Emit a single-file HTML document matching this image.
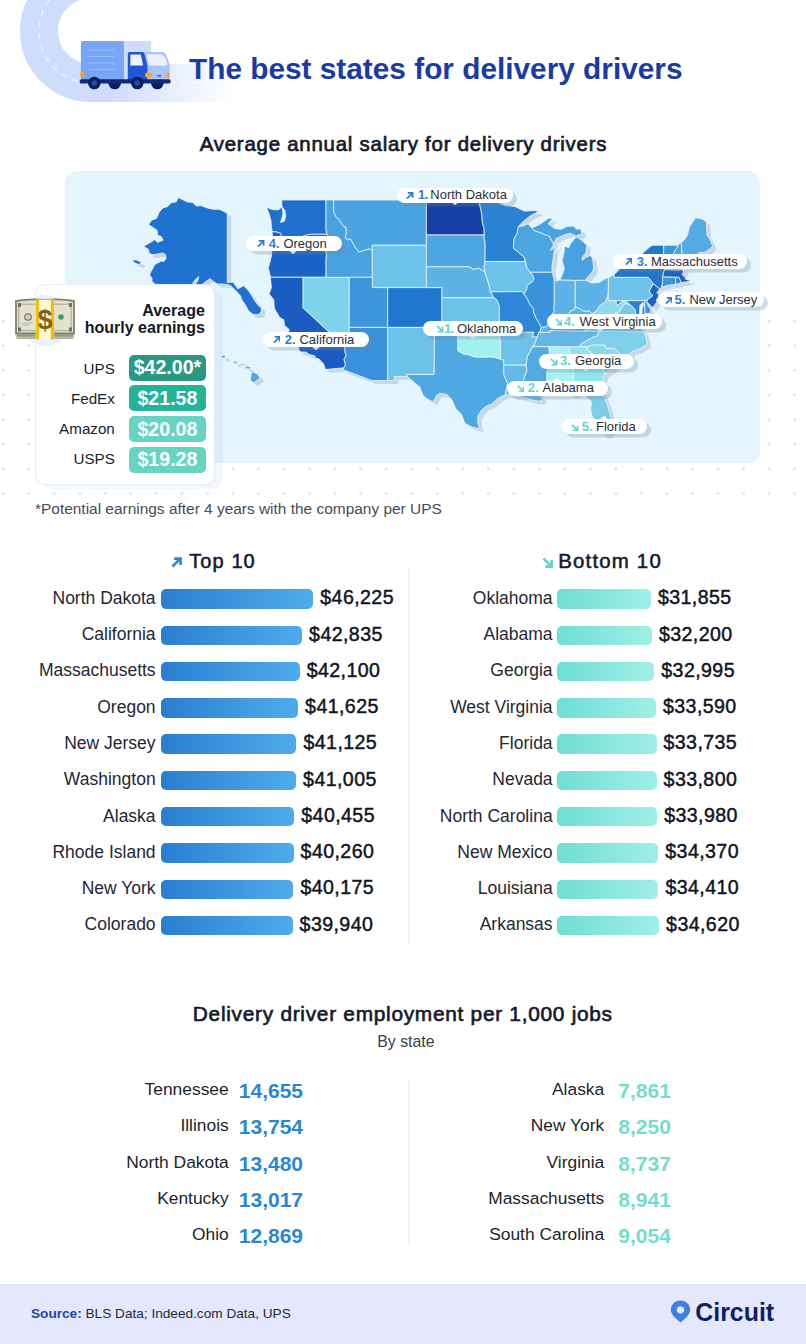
<!DOCTYPE html>
<html><head><meta charset="utf-8"><title>The best states for delivery drivers</title>
<style>
html,body{margin:0;padding:0;background:#fff;}
body{width:806px;height:1344px;position:relative;overflow:hidden;font-family:'Liberation Sans', Arial, sans-serif;}
.abs{position:absolute;}
.t{position:absolute;white-space:nowrap;line-height:1;}
.pill{position:absolute;height:15px;border-radius:7.5px;background:#fff;box-shadow:4px 3.5px 0 rgba(105,134,155,0.28);}
.pill b{font-weight:700;}
.bar{position:absolute;height:19.5px;border-radius:5px;}
.top .bar{background:linear-gradient(90deg,#2a7ed0,#4eaceb);}
.bot .bar{background:linear-gradient(90deg,#6fded3,#a0efe7);}
</style></head><body>

<svg class="abs" style="left:0;top:0" width="260" height="115" viewBox="0 0 260 115">
<defs>
<linearGradient id="fade" gradientUnits="userSpaceOnUse" x1="112" y1="0" x2="236" y2="0">
<stop offset="0" stop-color="#fff"/><stop offset="1" stop-color="#fff" stop-opacity="0"/></linearGradient>
<mask id="rm" maskUnits="userSpaceOnUse" x="0" y="-20" width="260" height="140"><rect x="0" y="-20" width="260" height="140" fill="url(#fade)"/></mask>
</defs>
<g mask="url(#rm)">
<path d="M91,-21 A52,52 0 0 0 91,83 L250,83" fill="none" stroke="#cfddfc" stroke-width="38"/>
<path d="M91,-21 A52,52 0 0 0 91,83 L250,83" fill="none" stroke="#eef3fe" stroke-width="1.6" stroke-dasharray="6 6"/>
</g>
<!-- truck -->
<circle cx="114.7" cy="83" r="6.3" fill="#0b1f5a"/><circle cx="157.3" cy="83" r="6.3" fill="#0b1f5a"/>
<rect x="123" y="40.9" width="28.2" height="39" rx="1.5" fill="#cddcfb"/>
<rect x="80.9" y="40.9" width="43" height="39.5" rx="1.5" fill="#78a5f6"/>
<g stroke="#93b9f8" stroke-width="1.2"><line x1="88" y1="50" x2="114.7" y2="50"/><line x1="88" y1="56.5" x2="114.7" y2="56.5"/><line x1="88" y1="63" x2="114.7" y2="63"/><line x1="88" y1="69.5" x2="114.7" y2="69.5"/></g>
<path d="M142,52 L162,52 Q165,52 166.5,55 L169.6,65 L169.6,79.5 L145,80 Z" fill="#a9c4f8"/>
<path d="M146.5,54.2 L161.5,54.2 L165.3,57.5 L167.6,65.6 L148.8,65.6 Z" fill="#e9f1fe"/>
<path d="M127.8,80 L127.8,54 Q127.8,52 129.8,52 L142.5,52 Q144,52 144.5,54 L147.5,66 L147.5,80 Z" fill="#1f55d6"/>
<path d="M130.4,54.6 L140.8,54.6 L143.2,65.6 L130.4,65.6 Z" fill="#eef3fe"/>
<rect x="79.6" y="79.2" width="91.2" height="4.4" rx="2.2" fill="#0e2a78"/>
<circle cx="94.3" cy="83" r="6.3" fill="#0b1f5a"/><circle cx="94.3" cy="83" r="2.8" fill="#1c4fb8"/>
<circle cx="137.3" cy="83" r="6.3" fill="#0b1f5a"/><circle cx="137.3" cy="83" r="2.8" fill="#1c4fb8"/>
<rect x="80.2" y="71.2" width="4.4" height="5.8" rx="2" fill="#f6a623"/>
<ellipse cx="148.6" cy="75" rx="3.6" ry="2.8" fill="#f7a823"/>
<ellipse cx="168" cy="75" rx="1.8" ry="2.8" fill="#f7a823"/>
<rect x="157.5" y="74.9" width="3.8" height="1.5" rx="0.7" fill="#1f55d6"/>
</svg>

<div class="t" style="left:189.0px;top:53.8px;font-size:29.8px;color:#1a3ba5;font-weight:700;">The best states for delivery drivers</div>
<div class="t" style="left:103.5px;width:600px;text-align:center;top:133.5px;font-size:20.4px;color:#171b2b;font-weight:400;-webkit-text-stroke:0.7px #171b2b;letter-spacing:0.78px;">Average annual salary for delivery drivers</div>
<svg class="abs" style="left:0;top:0" width="806" height="520"><g fill="#dde6f1"><circle cx="3.2" cy="321.0" r="1.6"/><circle cx="28.7" cy="321.0" r="1.6"/><circle cx="54.3" cy="321.0" r="1.6"/><circle cx="79.8" cy="321.0" r="1.6"/><circle cx="105.3" cy="321.0" r="1.6"/><circle cx="130.8" cy="321.0" r="1.6"/><circle cx="156.4" cy="321.0" r="1.6"/><circle cx="181.9" cy="321.0" r="1.6"/><circle cx="207.4" cy="321.0" r="1.6"/><circle cx="233.0" cy="321.0" r="1.6"/><circle cx="258.5" cy="321.0" r="1.6"/><circle cx="284.0" cy="321.0" r="1.6"/><circle cx="309.6" cy="321.0" r="1.6"/><circle cx="335.1" cy="321.0" r="1.6"/><circle cx="360.6" cy="321.0" r="1.6"/><circle cx="386.2" cy="321.0" r="1.6"/><circle cx="411.7" cy="321.0" r="1.6"/><circle cx="437.2" cy="321.0" r="1.6"/><circle cx="462.7" cy="321.0" r="1.6"/><circle cx="488.3" cy="321.0" r="1.6"/><circle cx="513.8" cy="321.0" r="1.6"/><circle cx="539.3" cy="321.0" r="1.6"/><circle cx="564.9" cy="321.0" r="1.6"/><circle cx="590.4" cy="321.0" r="1.6"/><circle cx="615.9" cy="321.0" r="1.6"/><circle cx="641.5" cy="321.0" r="1.6"/><circle cx="667.0" cy="321.0" r="1.6"/><circle cx="692.5" cy="321.0" r="1.6"/><circle cx="718.0" cy="321.0" r="1.6"/><circle cx="743.6" cy="321.0" r="1.6"/><circle cx="769.1" cy="321.0" r="1.6"/><circle cx="794.6" cy="321.0" r="1.6"/><circle cx="3.2" cy="345.6" r="1.6"/><circle cx="28.7" cy="345.6" r="1.6"/><circle cx="54.3" cy="345.6" r="1.6"/><circle cx="79.8" cy="345.6" r="1.6"/><circle cx="105.3" cy="345.6" r="1.6"/><circle cx="130.8" cy="345.6" r="1.6"/><circle cx="156.4" cy="345.6" r="1.6"/><circle cx="181.9" cy="345.6" r="1.6"/><circle cx="207.4" cy="345.6" r="1.6"/><circle cx="233.0" cy="345.6" r="1.6"/><circle cx="258.5" cy="345.6" r="1.6"/><circle cx="284.0" cy="345.6" r="1.6"/><circle cx="309.6" cy="345.6" r="1.6"/><circle cx="335.1" cy="345.6" r="1.6"/><circle cx="360.6" cy="345.6" r="1.6"/><circle cx="386.2" cy="345.6" r="1.6"/><circle cx="411.7" cy="345.6" r="1.6"/><circle cx="437.2" cy="345.6" r="1.6"/><circle cx="462.7" cy="345.6" r="1.6"/><circle cx="488.3" cy="345.6" r="1.6"/><circle cx="513.8" cy="345.6" r="1.6"/><circle cx="539.3" cy="345.6" r="1.6"/><circle cx="564.9" cy="345.6" r="1.6"/><circle cx="590.4" cy="345.6" r="1.6"/><circle cx="615.9" cy="345.6" r="1.6"/><circle cx="641.5" cy="345.6" r="1.6"/><circle cx="667.0" cy="345.6" r="1.6"/><circle cx="692.5" cy="345.6" r="1.6"/><circle cx="718.0" cy="345.6" r="1.6"/><circle cx="743.6" cy="345.6" r="1.6"/><circle cx="769.1" cy="345.6" r="1.6"/><circle cx="794.6" cy="345.6" r="1.6"/><circle cx="3.2" cy="370.3" r="1.6"/><circle cx="28.7" cy="370.3" r="1.6"/><circle cx="54.3" cy="370.3" r="1.6"/><circle cx="79.8" cy="370.3" r="1.6"/><circle cx="105.3" cy="370.3" r="1.6"/><circle cx="130.8" cy="370.3" r="1.6"/><circle cx="156.4" cy="370.3" r="1.6"/><circle cx="181.9" cy="370.3" r="1.6"/><circle cx="207.4" cy="370.3" r="1.6"/><circle cx="233.0" cy="370.3" r="1.6"/><circle cx="258.5" cy="370.3" r="1.6"/><circle cx="284.0" cy="370.3" r="1.6"/><circle cx="309.6" cy="370.3" r="1.6"/><circle cx="335.1" cy="370.3" r="1.6"/><circle cx="360.6" cy="370.3" r="1.6"/><circle cx="386.2" cy="370.3" r="1.6"/><circle cx="411.7" cy="370.3" r="1.6"/><circle cx="437.2" cy="370.3" r="1.6"/><circle cx="462.7" cy="370.3" r="1.6"/><circle cx="488.3" cy="370.3" r="1.6"/><circle cx="513.8" cy="370.3" r="1.6"/><circle cx="539.3" cy="370.3" r="1.6"/><circle cx="564.9" cy="370.3" r="1.6"/><circle cx="590.4" cy="370.3" r="1.6"/><circle cx="615.9" cy="370.3" r="1.6"/><circle cx="641.5" cy="370.3" r="1.6"/><circle cx="667.0" cy="370.3" r="1.6"/><circle cx="692.5" cy="370.3" r="1.6"/><circle cx="718.0" cy="370.3" r="1.6"/><circle cx="743.6" cy="370.3" r="1.6"/><circle cx="769.1" cy="370.3" r="1.6"/><circle cx="794.6" cy="370.3" r="1.6"/><circle cx="3.2" cy="394.9" r="1.6"/><circle cx="28.7" cy="394.9" r="1.6"/><circle cx="54.3" cy="394.9" r="1.6"/><circle cx="79.8" cy="394.9" r="1.6"/><circle cx="105.3" cy="394.9" r="1.6"/><circle cx="130.8" cy="394.9" r="1.6"/><circle cx="156.4" cy="394.9" r="1.6"/><circle cx="181.9" cy="394.9" r="1.6"/><circle cx="207.4" cy="394.9" r="1.6"/><circle cx="233.0" cy="394.9" r="1.6"/><circle cx="258.5" cy="394.9" r="1.6"/><circle cx="284.0" cy="394.9" r="1.6"/><circle cx="309.6" cy="394.9" r="1.6"/><circle cx="335.1" cy="394.9" r="1.6"/><circle cx="360.6" cy="394.9" r="1.6"/><circle cx="386.2" cy="394.9" r="1.6"/><circle cx="411.7" cy="394.9" r="1.6"/><circle cx="437.2" cy="394.9" r="1.6"/><circle cx="462.7" cy="394.9" r="1.6"/><circle cx="488.3" cy="394.9" r="1.6"/><circle cx="513.8" cy="394.9" r="1.6"/><circle cx="539.3" cy="394.9" r="1.6"/><circle cx="564.9" cy="394.9" r="1.6"/><circle cx="590.4" cy="394.9" r="1.6"/><circle cx="615.9" cy="394.9" r="1.6"/><circle cx="641.5" cy="394.9" r="1.6"/><circle cx="667.0" cy="394.9" r="1.6"/><circle cx="692.5" cy="394.9" r="1.6"/><circle cx="718.0" cy="394.9" r="1.6"/><circle cx="743.6" cy="394.9" r="1.6"/><circle cx="769.1" cy="394.9" r="1.6"/><circle cx="794.6" cy="394.9" r="1.6"/><circle cx="3.2" cy="419.6" r="1.6"/><circle cx="28.7" cy="419.6" r="1.6"/><circle cx="54.3" cy="419.6" r="1.6"/><circle cx="79.8" cy="419.6" r="1.6"/><circle cx="105.3" cy="419.6" r="1.6"/><circle cx="130.8" cy="419.6" r="1.6"/><circle cx="156.4" cy="419.6" r="1.6"/><circle cx="181.9" cy="419.6" r="1.6"/><circle cx="207.4" cy="419.6" r="1.6"/><circle cx="233.0" cy="419.6" r="1.6"/><circle cx="258.5" cy="419.6" r="1.6"/><circle cx="284.0" cy="419.6" r="1.6"/><circle cx="309.6" cy="419.6" r="1.6"/><circle cx="335.1" cy="419.6" r="1.6"/><circle cx="360.6" cy="419.6" r="1.6"/><circle cx="386.2" cy="419.6" r="1.6"/><circle cx="411.7" cy="419.6" r="1.6"/><circle cx="437.2" cy="419.6" r="1.6"/><circle cx="462.7" cy="419.6" r="1.6"/><circle cx="488.3" cy="419.6" r="1.6"/><circle cx="513.8" cy="419.6" r="1.6"/><circle cx="539.3" cy="419.6" r="1.6"/><circle cx="564.9" cy="419.6" r="1.6"/><circle cx="590.4" cy="419.6" r="1.6"/><circle cx="615.9" cy="419.6" r="1.6"/><circle cx="641.5" cy="419.6" r="1.6"/><circle cx="667.0" cy="419.6" r="1.6"/><circle cx="692.5" cy="419.6" r="1.6"/><circle cx="718.0" cy="419.6" r="1.6"/><circle cx="743.6" cy="419.6" r="1.6"/><circle cx="769.1" cy="419.6" r="1.6"/><circle cx="794.6" cy="419.6" r="1.6"/><circle cx="3.2" cy="444.2" r="1.6"/><circle cx="28.7" cy="444.2" r="1.6"/><circle cx="54.3" cy="444.2" r="1.6"/><circle cx="79.8" cy="444.2" r="1.6"/><circle cx="105.3" cy="444.2" r="1.6"/><circle cx="130.8" cy="444.2" r="1.6"/><circle cx="156.4" cy="444.2" r="1.6"/><circle cx="181.9" cy="444.2" r="1.6"/><circle cx="207.4" cy="444.2" r="1.6"/><circle cx="233.0" cy="444.2" r="1.6"/><circle cx="258.5" cy="444.2" r="1.6"/><circle cx="284.0" cy="444.2" r="1.6"/><circle cx="309.6" cy="444.2" r="1.6"/><circle cx="335.1" cy="444.2" r="1.6"/><circle cx="360.6" cy="444.2" r="1.6"/><circle cx="386.2" cy="444.2" r="1.6"/><circle cx="411.7" cy="444.2" r="1.6"/><circle cx="437.2" cy="444.2" r="1.6"/><circle cx="462.7" cy="444.2" r="1.6"/><circle cx="488.3" cy="444.2" r="1.6"/><circle cx="513.8" cy="444.2" r="1.6"/><circle cx="539.3" cy="444.2" r="1.6"/><circle cx="564.9" cy="444.2" r="1.6"/><circle cx="590.4" cy="444.2" r="1.6"/><circle cx="615.9" cy="444.2" r="1.6"/><circle cx="641.5" cy="444.2" r="1.6"/><circle cx="667.0" cy="444.2" r="1.6"/><circle cx="692.5" cy="444.2" r="1.6"/><circle cx="718.0" cy="444.2" r="1.6"/><circle cx="743.6" cy="444.2" r="1.6"/><circle cx="769.1" cy="444.2" r="1.6"/><circle cx="794.6" cy="444.2" r="1.6"/><circle cx="3.2" cy="468.9" r="1.6"/><circle cx="28.7" cy="468.9" r="1.6"/><circle cx="54.3" cy="468.9" r="1.6"/><circle cx="79.8" cy="468.9" r="1.6"/><circle cx="105.3" cy="468.9" r="1.6"/><circle cx="130.8" cy="468.9" r="1.6"/><circle cx="156.4" cy="468.9" r="1.6"/><circle cx="181.9" cy="468.9" r="1.6"/><circle cx="207.4" cy="468.9" r="1.6"/><circle cx="233.0" cy="468.9" r="1.6"/><circle cx="258.5" cy="468.9" r="1.6"/><circle cx="284.0" cy="468.9" r="1.6"/><circle cx="309.6" cy="468.9" r="1.6"/><circle cx="335.1" cy="468.9" r="1.6"/><circle cx="360.6" cy="468.9" r="1.6"/><circle cx="386.2" cy="468.9" r="1.6"/><circle cx="411.7" cy="468.9" r="1.6"/><circle cx="437.2" cy="468.9" r="1.6"/><circle cx="462.7" cy="468.9" r="1.6"/><circle cx="488.3" cy="468.9" r="1.6"/><circle cx="513.8" cy="468.9" r="1.6"/><circle cx="539.3" cy="468.9" r="1.6"/><circle cx="564.9" cy="468.9" r="1.6"/><circle cx="590.4" cy="468.9" r="1.6"/><circle cx="615.9" cy="468.9" r="1.6"/><circle cx="641.5" cy="468.9" r="1.6"/><circle cx="667.0" cy="468.9" r="1.6"/><circle cx="692.5" cy="468.9" r="1.6"/><circle cx="718.0" cy="468.9" r="1.6"/><circle cx="743.6" cy="468.9" r="1.6"/><circle cx="769.1" cy="468.9" r="1.6"/><circle cx="794.6" cy="468.9" r="1.6"/><circle cx="3.2" cy="493.5" r="1.6"/><circle cx="28.7" cy="493.5" r="1.6"/><circle cx="54.3" cy="493.5" r="1.6"/><circle cx="79.8" cy="493.5" r="1.6"/><circle cx="105.3" cy="493.5" r="1.6"/><circle cx="130.8" cy="493.5" r="1.6"/><circle cx="156.4" cy="493.5" r="1.6"/><circle cx="181.9" cy="493.5" r="1.6"/><circle cx="207.4" cy="493.5" r="1.6"/><circle cx="233.0" cy="493.5" r="1.6"/><circle cx="258.5" cy="493.5" r="1.6"/><circle cx="284.0" cy="493.5" r="1.6"/><circle cx="309.6" cy="493.5" r="1.6"/><circle cx="335.1" cy="493.5" r="1.6"/><circle cx="360.6" cy="493.5" r="1.6"/><circle cx="386.2" cy="493.5" r="1.6"/><circle cx="411.7" cy="493.5" r="1.6"/><circle cx="437.2" cy="493.5" r="1.6"/><circle cx="462.7" cy="493.5" r="1.6"/><circle cx="488.3" cy="493.5" r="1.6"/><circle cx="513.8" cy="493.5" r="1.6"/><circle cx="539.3" cy="493.5" r="1.6"/><circle cx="564.9" cy="493.5" r="1.6"/><circle cx="590.4" cy="493.5" r="1.6"/><circle cx="615.9" cy="493.5" r="1.6"/><circle cx="641.5" cy="493.5" r="1.6"/><circle cx="667.0" cy="493.5" r="1.6"/><circle cx="692.5" cy="493.5" r="1.6"/><circle cx="718.0" cy="493.5" r="1.6"/><circle cx="743.6" cy="493.5" r="1.6"/><circle cx="769.1" cy="493.5" r="1.6"/><circle cx="794.6" cy="493.5" r="1.6"/></g></svg>
<div class="abs" style="left:65px;top:171px;width:695px;height:292px;border-radius:12px;background:#e5f5fe;"></div>
<svg class="abs" style="left:0;top:0" width="806" height="520" viewBox="0 0 806 520">
<g transform="translate(4,3.5)" fill="#c7d8e5">
<path d="M266.5,207.2 272.2,209.6 278.4,209.9 281.8,207.0 281.8,200.0 326.0,200.0 326.0,229.5 326.9,234.3 311.0,234.3 306.2,235.1 299.2,237.6 293.8,238.2 285.3,239.3 281.8,238.2 280.7,233.2 276.8,232.1 272.2,231.5 271.4,226.5 271.0,220.8 269.1,213.9Z"/>
<path d="M272.2,231.5 276.8,232.1 280.7,233.2 281.8,238.2 285.3,239.3 293.8,238.2 299.2,237.6 306.2,235.1 311.0,234.3 326.9,234.3 330.3,239.3 328.6,244.2 325.1,251.3 326.7,254.0 326.1,258.3 326.1,277.3 303.1,277.3 270.6,277.3 269.1,271.1 268.3,268.4 271.4,256.2 272.2,245.3 272.6,237.6Z"/>
<path d="M325.4,369.5 324.4,366.1 323.2,363.4 318.6,358.7 315.5,358.3 314.7,355.7 309.3,354.5 306.2,352.2 299.6,351.7 298.5,347.5 298.1,343.7 293.1,339.9 288.4,334.2 289.2,329.4 284.5,325.5 283.8,319.7 279.9,317.7 274.5,308.8 273.7,299.8 269.1,293.8 271.4,287.6 270.6,279.4 270.6,277.3 303.1,277.3 303.1,307.8 344.6,346.6 345.1,352.2 346.2,355.2 344.1,359.7 345.5,364.9 343.9,367.8Z"/>
<path d="M303.1,277.3 326.1,277.3 349.2,277.3 349.2,327.4 349.2,335.2 346.8,336.1 344.1,336.6 344.6,346.6 303.1,307.8Z"/>
<path d="M326.0,200.0 333.6,200.0 333.6,211.9 336.0,216.8 339.4,220.2 343.7,226.5 346.0,227.0 346.4,234.3 345.2,237.1 347.2,239.9 350.6,238.7 353.3,244.2 355.3,247.5 358.8,251.9 364.9,250.2 369.6,248.6 372.3,250.8 372.3,277.3 349.2,277.3 326.1,277.3 326.1,258.3 326.7,254.0 325.1,251.3 328.6,244.2 330.3,239.3 326.9,234.3 326.0,229.5Z"/>
<path d="M333.6,200.0 426.4,200.0 426.4,235.0 426.4,245.3 372.3,245.3 372.3,250.8 369.6,248.6 364.9,250.2 358.8,251.9 355.3,247.5 353.3,244.2 350.6,238.7 347.2,239.9 345.2,237.1 346.4,234.3 346.0,227.0 343.7,226.5 339.4,220.2 336.0,216.8 333.6,211.9Z"/>
<path d="M372.3,250.8 372.3,245.3 426.4,245.3 426.4,266.8 426.4,287.6 387.7,287.6 372.3,287.6 372.3,277.3Z"/>
<path d="M349.2,277.3 372.3,277.3 372.3,287.6 387.7,287.6 387.7,327.4 349.2,327.4Z"/>
<path d="M387.7,287.6 426.4,287.6 441.9,287.6 441.9,297.8 441.9,327.4 434.5,327.4 387.7,327.4Z"/>
<path d="M349.2,327.4 387.7,327.4 387.7,380.5 372.1,380.5 343.2,369.8 343.9,367.8 345.5,364.9 344.1,359.7 346.2,355.2 345.1,352.2 344.6,346.6 344.1,336.6 346.8,336.1 349.2,335.2Z"/>
<path d="M387.7,327.4 434.5,327.4 434.5,332.3 434.2,374.4 406.5,374.4 407.2,376.4 394.3,376.4 394.3,380.5 387.7,380.5Z"/>
<path d="M426.4,200.0 479.1,200.0 479.7,204.7 481.3,211.6 482.0,216.2 482.4,223.1 484.0,227.6 484.3,235.0 426.4,235.0Z"/>
<path d="M426.4,235.0 484.3,235.0 484.0,238.2 485.1,242.1 485.1,261.5 484.0,266.8 485.1,272.2 479.3,268.4 473.2,269.3 469.3,266.8 426.4,266.8 426.4,245.3Z"/>
<path d="M426.4,266.8 469.3,266.8 473.2,269.3 479.3,268.4 485.1,272.2 485.9,275.2 488.2,282.0 489.5,287.1 490.4,291.9 494.0,297.8 441.9,297.8 441.9,287.6 426.4,287.6Z"/>
<path d="M441.9,297.8 494.0,297.8 497.1,300.3 499.4,306.8 499.3,327.4 441.9,327.4Z"/>
<path d="M441.9,327.4 499.3,327.4 499.3,332.3 500.8,342.8 500.4,359.3 494.0,357.2 488.6,356.9 484.0,357.3 479.3,357.3 473.9,356.9 469.3,355.0 463.9,354.1 460.0,352.2 457.7,350.7 457.7,332.3 434.5,332.3 434.5,327.4Z"/>
<path d="M500.4,359.3 503.8,360.1 503.8,365.2 503.8,374.4 505.6,378.9 507.6,383.4 506.4,389.7 505.3,395.1 500.2,396.9 496.4,399.5 491.7,403.9 485.5,406.6 480.9,411.0 477.8,416.2 477.8,423.1 479.7,427.9 477.0,428.3 470.8,426.6 464.7,423.1 461.6,414.5 455.4,408.3 452.3,400.4 446.9,394.5 439.9,393.5 436.8,395.1 433.7,401.3 431.4,401.0 426.8,398.6 422.9,395.1 419.8,387.0 414.4,382.5 407.2,376.4 406.5,374.4 434.2,374.4 434.5,332.3 457.7,332.3 457.7,350.7 460.0,352.2 463.9,354.1 469.3,355.0 473.9,356.9 479.3,357.3 484.0,357.3 488.6,356.9 494.0,357.2Z"/>
<path d="M479.1,200.0 495.2,200.0 495.2,195.5 497.9,195.5 499.4,203.3 505.6,205.6 514.9,206.4 524.2,211.1 535.0,210.5 538.9,211.6 530.4,215.7 522.6,221.9 518.4,226.5 517.2,233.2 514.1,238.7 513.4,245.3 513.7,248.6 517.2,251.3 520.3,254.0 523.8,256.7 525.6,261.5 485.1,261.5 485.1,242.1 484.0,238.2 484.3,235.0 484.0,227.6 482.4,223.1 482.0,216.2 481.3,211.6 479.7,204.7Z"/>
<path d="M485.1,261.5 525.6,261.5 526.5,266.8 530.0,272.1 533.5,276.3 533.8,279.4 531.9,282.0 527.3,285.6 526.5,289.7 524.0,294.0 521.6,291.6 490.4,291.9 489.5,287.1 488.2,282.0 485.9,275.2 485.1,272.2 484.0,266.8Z"/>
<path d="M490.4,291.9 521.6,291.6 524.0,294.0 527.3,298.8 529.6,303.8 533.5,308.8 533.5,311.8 535.8,317.7 538.9,322.6 541.3,327.4 540.4,331.3 538.9,332.3 537.3,337.1 532.1,337.1 533.8,332.3 499.3,332.3 499.3,327.4 499.4,306.8 497.1,300.3 494.0,297.8Z"/>
<path d="M537.3,337.1 532.1,337.1 533.8,332.3 499.3,332.3 500.8,342.8 500.4,359.3 503.8,360.1 503.8,365.2 526.1,365.2 527.3,356.9 530.4,351.3 532.7,346.6 534.2,345.6 535.8,340.9Z"/>
<path d="M526.1,365.2 503.8,365.2 503.8,374.4 505.6,378.9 507.6,383.4 506.4,389.7 505.3,395.1 509.5,394.2 515.7,396.0 521.1,396.9 527.3,398.6 533.5,400.4 539.6,401.3 542.7,399.5 539.6,393.3 538.1,390.6 536.9,383.4 522.6,383.4 524.2,378.0 526.9,370.7Z"/>
<path d="M532.7,346.6 530.4,351.3 527.3,356.9 526.1,365.2 526.9,370.7 524.2,378.0 522.6,383.4 536.9,383.4 538.1,390.6 542.7,388.8 547.4,388.8 546.8,375.3 549.7,355.9 548.9,346.6Z"/>
<path d="M548.9,346.6 549.7,355.9 546.8,375.3 547.4,388.8 550.5,390.2 554.3,389.7 553.6,383.4 573.6,383.4 573.3,378.0 573.6,371.6 572.3,366.4 569.0,346.7Z"/>
<path d="M573.6,383.4 573.3,378.0 573.6,371.6 572.3,366.4 569.0,346.7 578.9,346.7 588.3,346.6 586.4,349.4 590.7,351.7 595.3,358.7 600.7,364.3 604.6,373.9 603.0,378.9 601.1,386.1 596.8,386.1 595.3,387.3 574.7,386.1Z"/>
<path d="M554.3,389.7 553.6,383.4 573.6,383.4 574.7,386.1 595.3,387.3 596.8,386.1 601.1,386.1 602.3,392.4 607.7,405.7 612.3,421.4 611.5,429.2 609.2,434.3 603.8,435.2 599.2,428.3 596.1,423.1 591.4,414.5 590.7,408.3 591.4,401.3 585.2,396.0 581.4,391.5 575.2,395.1 571.3,395.1 569.0,391.5 562.1,388.8Z"/>
<path d="M604.6,373.9 600.7,364.3 595.3,358.7 590.7,351.7 586.4,349.4 588.3,346.6 593.7,344.7 604.2,345.1 605.3,345.6 606.1,348.3 614.6,348.4 623.5,357.2 618.5,363.4 612.3,368.9 606.9,372.6Z"/>
<path d="M588.3,346.6 578.9,346.7 581.4,343.7 585.2,341.4 592.2,337.5 596.8,336.1 599.3,331.4 644.0,331.8 646.3,338.0 647.1,344.2 643.2,346.6 638.6,349.4 631.6,351.7 628.5,356.9 623.5,357.2 614.6,348.4 606.1,348.3 605.3,345.6 604.2,345.1 593.7,344.7Z"/>
<path d="M538.9,332.3 537.3,337.1 535.8,340.9 534.2,345.6 532.7,346.6 548.9,346.6 569.0,346.7 578.9,346.7 581.4,343.7 585.2,341.4 592.2,337.5 596.8,336.1 599.3,331.4 583.9,331.3 550.1,330.5 550.1,332.3Z"/>
<path d="M538.9,332.3 550.1,332.3 550.1,330.5 583.9,331.3 589.1,328.9 594.5,324.5 597.1,322.2 594.5,319.7 592.2,316.0 592.2,313.6 589.1,310.8 583.7,311.4 579.1,308.3 575.0,306.8 574.4,309.8 570.6,310.8 566.7,317.7 562.1,318.7 557.4,319.7 553.6,318.2 550.1,319.7 549.7,322.6 546.6,326.5 541.3,327.4 540.4,331.3Z"/>
<path d="M644.0,331.8 599.3,331.4 583.9,331.3 589.1,328.9 594.5,324.5 597.1,322.2 603.0,325.0 610.0,322.6 612.3,318.7 615.4,312.8 618.5,312.8 621.6,307.8 625.1,303.3 629.9,304.6 631.6,305.8 635.2,309.8 636.3,315.7 640.9,321.6 640.9,327.4Z"/>
<path d="M597.1,322.2 594.5,319.7 592.2,316.0 592.2,313.6 595.3,311.8 597.6,308.8 600.7,304.8 605.7,301.8 607.7,295.8 608.3,291.3 608.3,300.6 616.3,300.6 616.3,305.8 621.6,301.8 626.2,301.0 629.9,304.6 625.1,303.3 621.6,307.8 618.5,312.8 615.4,312.8 612.3,318.7 610.0,322.6 603.0,325.0Z"/>
<path d="M616.3,300.6 616.3,305.8 621.6,301.8 626.2,301.0 629.9,304.6 631.6,305.8 635.2,309.8 636.3,315.7 640.9,316.7 639.4,309.8 640.5,305.8 641.7,313.8 644.0,318.2 649.0,317.4 650.6,313.3 644.8,313.3 644.8,300.6Z"/>
<path d="M650.6,313.3 644.8,313.3 644.8,300.6 647.9,299.5 646.7,301.8 647.9,305.3 650.6,309.8Z"/>
<path d="M608.3,277.5 608.3,291.3 608.3,300.6 616.3,300.6 644.8,300.6 647.9,299.5 650.2,297.8 652.9,295.8 649.4,291.7 650.2,289.2 653.3,283.9 650.2,279.4 648.2,277.3 614.2,277.3 614.2,274.5Z"/>
<path d="M575.0,306.8 575.2,280.4 585.6,280.1 591.4,283.0 599.2,282.5 604.6,278.9 608.3,277.5 608.3,291.3 607.7,295.8 605.7,301.8 600.7,304.8 597.6,308.8 595.3,311.8 592.2,313.6 589.1,310.8 583.7,311.4 579.1,308.3Z"/>
<path d="M554.1,279.8 554.1,304.3 553.6,308.8 554.3,310.8 551.2,315.7 550.1,319.7 553.6,318.2 557.4,319.7 562.1,318.7 566.7,317.7 570.6,310.8 574.4,309.8 575.0,306.8 575.2,280.4 559.7,279.8 556.6,281.3Z"/>
<path d="M554.1,279.8 553.6,277.3 552.0,272.1 530.0,272.1 533.5,276.3 533.8,279.4 531.9,282.0 527.3,285.6 526.5,289.7 524.0,294.0 527.3,298.8 529.6,303.8 533.5,308.8 533.5,311.8 535.8,317.7 538.9,322.6 541.3,327.4 546.6,326.5 549.7,322.6 550.1,319.7 551.2,315.7 554.3,310.8 553.6,308.8 554.1,304.3Z"/>
<path d="M552.0,272.1 530.0,272.1 526.5,266.8 525.6,261.5 523.8,256.7 520.3,254.0 517.2,251.3 513.7,248.6 513.4,245.3 514.1,238.7 517.2,233.2 518.4,226.5 523.4,225.9 528.0,223.7 531.9,227.9 534.2,230.5 542.0,233.2 549.7,236.5 552.0,241.0 553.6,244.2 550.5,250.2 553.6,248.6 559.0,242.1 554.3,249.7 553.6,255.1 552.8,261.5 552.0,266.8Z"/>
<path d="M559.7,279.8 575.2,280.4 585.6,280.1 587.6,277.3 593.0,271.1 593.7,266.8 592.2,257.3 589.9,255.6 586.0,257.3 582.2,260.5 582.2,257.3 586.0,252.9 586.8,245.3 581.4,239.9 576.0,236.8 573.6,239.9 570.6,243.2 569.0,247.5 564.4,246.4 564.0,252.9 562.1,260.5 564.4,268.9 562.1,275.2Z"/>
<path d="M553.6,244.2 552.0,241.0 549.7,236.5 542.0,233.2 534.2,230.5 531.9,227.9 538.9,224.8 543.5,221.9 548.9,218.0 552.8,218.5 548.1,223.7 555.1,228.7 561.3,229.3 566.7,226.5 573.6,225.9 576.7,229.3 580.6,228.7 582.2,233.8 580.6,234.3 576.0,236.0 569.8,233.2 561.3,236.0 555.9,238.7Z"/>
<path d="M653.3,283.9 650.2,279.4 648.2,277.3 614.2,277.3 614.2,274.5 620.8,267.9 619.6,264.2 627.8,262.9 637.0,263.7 641.7,261.0 640.9,255.1 644.8,251.3 651.0,245.9 653.3,245.3 663.8,245.2 663.7,250.8 663.3,260.5 664.5,269.5 662.5,276.8 662.6,281.0 662.3,284.6 661.3,287.6 660.2,289.2 659.3,288.7Z"/>
<path d="M659.3,288.7 653.3,283.9 650.2,289.2 649.4,291.7 652.9,295.8 650.2,297.8 647.9,299.5 646.7,301.8 651.0,305.8 651.7,308.5 655.6,303.8 658.3,299.3 658.7,293.8 656.7,292.7 658.7,290.7Z"/>
<path d="M661.3,287.6 662.3,284.6 662.6,281.0 662.5,276.8 675.7,277.1 675.7,284.3 670.3,284.9 666.4,285.6Z"/>
<path d="M675.7,284.3 675.7,277.1 678.9,277.1 680.3,280.4 681.1,282.5 678.4,283.5Z"/>
<path d="M662.5,276.8 664.5,269.5 670.6,269.7 679.6,270.0 682.4,268.1 685.0,270.5 681.9,274.2 685.0,277.3 685.7,279.4 689.6,279.9 689.2,276.8 690.1,279.4 690.0,280.7 685.7,282.0 681.1,282.5 680.3,280.4 678.9,277.1 675.7,277.1Z"/>
<path d="M663.8,245.2 663.7,250.8 663.3,260.5 664.5,269.5 670.6,269.7 671.8,259.4 674.1,252.4 677.2,247.5 678.0,245.2Z"/>
<path d="M670.6,269.7 671.8,259.4 674.1,252.4 677.2,247.5 678.0,245.2 681.3,242.1 682.0,256.2 682.1,263.7 684.2,266.1 682.4,268.1 679.6,270.0Z"/>
<path d="M681.3,242.1 682.0,256.2 682.1,263.7 684.2,266.1 688.1,260.5 693.5,257.3 698.9,252.9 705.8,251.9 712.8,246.4 709.5,238.7 706.8,235.0 706.6,222.3 702.7,219.1 695.6,217.8 689.6,226.5 687.3,235.4 683.4,241.0Z"/>
<path d="M658.7,291.7 666.4,290.2 674.1,287.1 675.2,286.9 671.0,289.2 664.1,291.5 659.1,292.0Z"/>
<path d="M227.2,213.3 219.5,209.3 213.3,209.3 207.1,207.9 200.9,205.6 196.3,206.1 192.6,202.4 187.0,201.9 182.4,199.5 178.4,197.6 176.2,201.9 171.6,202.4 167.6,206.6 162.9,207.9 159.2,212.0 156.7,218.2 151.5,220.3 148.4,224.6 153.0,227.5 157.1,230.3 157.7,235.5 161.1,236.3 163.2,240.2 157.4,242.5 154.9,239.5 151.5,241.8 147.5,244.1 143.5,246.3 148.4,249.3 149.3,253.6 153.0,254.7 157.7,254.0 162.3,252.9 165.4,254.4 166.0,258.6 163.9,261.4 161.4,261.1 156.7,263.5 154.3,264.9 153.0,268.2 150.6,272.2 149.6,274.8 152.1,278.7 151.8,281.2 155.2,284.3 160.8,284.6 162.6,288.6 162.9,292.2 167.6,291.6 172.2,292.8 176.2,292.2 177.1,296.3 173.1,300.9 166.9,307.6 160.5,312.0 154.6,315.5 162.3,313.1 170.0,309.3 176.2,304.9 180.8,300.9 185.5,295.7 188.6,291.0 191.7,285.5 194.8,279.9 198.8,276.7 197.8,280.6 195.4,284.3 193.8,287.4 197.5,288.0 200.9,285.5 204.0,283.1 207.1,280.6 210.2,278.7 213.3,281.5 217.3,284.0 222.6,284.0 227.2,284.6 230.9,285.8 234.6,289.5 238.9,294.0 240.8,296.3 241.7,299.8 244.2,303.2 246.4,306.5 247.9,309.8 251.0,313.1 254.1,314.7 258.1,314.4 259.6,313.9 261.2,311.5 261.2,307.6 258.1,305.4 254.4,300.3 250.7,294.0 248.8,291.0 245.7,288.0 244.2,285.5 241.1,287.1 237.7,288.9 233.1,282.1 227.2,282.4Z"/>
<path d="M132.0,259.7 136.7,260.0 141.6,262.5 138.8,264.5 134.5,262.8Z"/>
<path d="M251.9,371.5 257.7,374.2 260.0,377.9 253.8,382.8 250.3,380.3 251.1,375.0Z"/>
<path d="M245.3,365.5 250.7,367.2 249.9,369.2 246.9,368.8 245.3,367.2Z"/>
<path d="M240.7,363.4 245.3,363.9 244.9,365.1 240.7,365.1Z"/>
<path d="M232.9,360.4 238.0,362.2 237.6,363.4 234.1,363.4Z"/>
<path d="M221.3,355.5 225.2,355.1 225.2,358.0 222.1,358.0Z"/>
</g><g stroke="#eef7fd" stroke-width="0.8" stroke-linejoin="round">
<path fill="#1f6fce" d="M266.5,207.2 272.2,209.6 278.4,209.9 281.8,207.0 281.8,200.0 326.0,200.0 326.0,229.5 326.9,234.3 311.0,234.3 306.2,235.1 299.2,237.6 293.8,238.2 285.3,239.3 281.8,238.2 280.7,233.2 276.8,232.1 272.2,231.5 271.4,226.5 271.0,220.8 269.1,213.9Z"/>
<path fill="#1c63c7" d="M272.2,231.5 276.8,232.1 280.7,233.2 281.8,238.2 285.3,239.3 293.8,238.2 299.2,237.6 306.2,235.1 311.0,234.3 326.9,234.3 330.3,239.3 328.6,244.2 325.1,251.3 326.7,254.0 326.1,258.3 326.1,277.3 303.1,277.3 270.6,277.3 269.1,271.1 268.3,268.4 271.4,256.2 272.2,245.3 272.6,237.6Z"/>
<path fill="#1b5cc2" d="M325.4,369.5 324.4,366.1 323.2,363.4 318.6,358.7 315.5,358.3 314.7,355.7 309.3,354.5 306.2,352.2 299.6,351.7 298.5,347.5 298.1,343.7 293.1,339.9 288.4,334.2 289.2,329.4 284.5,325.5 283.8,319.7 279.9,317.7 274.5,308.8 273.7,299.8 269.1,293.8 271.4,287.6 270.6,279.4 270.6,277.3 303.1,277.3 303.1,307.8 344.6,346.6 345.1,352.2 346.2,355.2 344.1,359.7 345.5,364.9 343.9,367.8Z"/>
<path fill="#7fd2ec" d="M303.1,277.3 326.1,277.3 349.2,277.3 349.2,327.4 349.2,335.2 346.8,336.1 344.1,336.6 344.6,346.6 303.1,307.8Z"/>
<path fill="#4aa1e0" d="M326.0,200.0 333.6,200.0 333.6,211.9 336.0,216.8 339.4,220.2 343.7,226.5 346.0,227.0 346.4,234.3 345.2,237.1 347.2,239.9 350.6,238.7 353.3,244.2 355.3,247.5 358.8,251.9 364.9,250.2 369.6,248.6 372.3,250.8 372.3,277.3 349.2,277.3 326.1,277.3 326.1,258.3 326.7,254.0 325.1,251.3 328.6,244.2 330.3,239.3 326.9,234.3 326.0,229.5Z"/>
<path fill="#4ca3e1" d="M333.6,200.0 426.4,200.0 426.4,235.0 426.4,245.3 372.3,245.3 372.3,250.8 369.6,248.6 364.9,250.2 358.8,251.9 355.3,247.5 353.3,244.2 350.6,238.7 347.2,239.9 345.2,237.1 346.4,234.3 346.0,227.0 343.7,226.5 339.4,220.2 336.0,216.8 333.6,211.9Z"/>
<path fill="#6cc2ea" d="M372.3,250.8 372.3,245.3 426.4,245.3 426.4,266.8 426.4,287.6 387.7,287.6 372.3,287.6 372.3,277.3Z"/>
<path fill="#3d95dc" d="M349.2,277.3 372.3,277.3 372.3,287.6 387.7,287.6 387.7,327.4 349.2,327.4Z"/>
<path fill="#2177d0" d="M387.7,287.6 426.4,287.6 441.9,287.6 441.9,297.8 441.9,327.4 434.5,327.4 387.7,327.4Z"/>
<path fill="#3a90db" d="M349.2,327.4 387.7,327.4 387.7,380.5 372.1,380.5 343.2,369.8 343.9,367.8 345.5,364.9 344.1,359.7 346.2,355.2 345.1,352.2 344.6,346.6 344.1,336.6 346.8,336.1 349.2,335.2Z"/>
<path fill="#6cc2ea" d="M387.7,327.4 434.5,327.4 434.5,332.3 434.2,374.4 406.5,374.4 407.2,376.4 394.3,376.4 394.3,380.5 387.7,380.5Z"/>
<path fill="#183fa3" d="M426.4,200.0 479.1,200.0 479.7,204.7 481.3,211.6 482.0,216.2 482.4,223.1 484.0,227.6 484.3,235.0 426.4,235.0Z"/>
<path fill="#4ea6e1" d="M426.4,235.0 484.3,235.0 484.0,238.2 485.1,242.1 485.1,261.5 484.0,266.8 485.1,272.2 479.3,268.4 473.2,269.3 469.3,266.8 426.4,266.8 426.4,245.3Z"/>
<path fill="#5db3e6" d="M426.4,266.8 469.3,266.8 473.2,269.3 479.3,268.4 485.1,272.2 485.9,275.2 488.2,282.0 489.5,287.1 490.4,291.9 494.0,297.8 441.9,297.8 441.9,287.6 426.4,287.6Z"/>
<path fill="#6cc2ea" d="M441.9,297.8 494.0,297.8 497.1,300.3 499.4,306.8 499.3,327.4 441.9,327.4Z"/>
<path fill="#a3f0f0" d="M441.9,327.4 499.3,327.4 499.3,332.3 500.8,342.8 500.4,359.3 494.0,357.2 488.6,356.9 484.0,357.3 479.3,357.3 473.9,356.9 469.3,355.0 463.9,354.1 460.0,352.2 457.7,350.7 457.7,332.3 434.5,332.3 434.5,327.4Z"/>
<path fill="#50a8e2" d="M500.4,359.3 503.8,360.1 503.8,365.2 503.8,374.4 505.6,378.9 507.6,383.4 506.4,389.7 505.3,395.1 500.2,396.9 496.4,399.5 491.7,403.9 485.5,406.6 480.9,411.0 477.8,416.2 477.8,423.1 479.7,427.9 477.0,428.3 470.8,426.6 464.7,423.1 461.6,414.5 455.4,408.3 452.3,400.4 446.9,394.5 439.9,393.5 436.8,395.1 433.7,401.3 431.4,401.0 426.8,398.6 422.9,395.1 419.8,387.0 414.4,382.5 407.2,376.4 406.5,374.4 434.2,374.4 434.5,332.3 457.7,332.3 457.7,350.7 460.0,352.2 463.9,354.1 469.3,355.0 473.9,356.9 479.3,357.3 484.0,357.3 488.6,356.9 494.0,357.2Z"/>
<path fill="#2a82d5" d="M479.1,200.0 495.2,200.0 495.2,195.5 497.9,195.5 499.4,203.3 505.6,205.6 514.9,206.4 524.2,211.1 535.0,210.5 538.9,211.6 530.4,215.7 522.6,221.9 518.4,226.5 517.2,233.2 514.1,238.7 513.4,245.3 513.7,248.6 517.2,251.3 520.3,254.0 523.8,256.7 525.6,261.5 485.1,261.5 485.1,242.1 484.0,238.2 484.3,235.0 484.0,227.6 482.4,223.1 482.0,216.2 481.3,211.6 479.7,204.7Z"/>
<path fill="#6cc2ea" d="M485.1,261.5 525.6,261.5 526.5,266.8 530.0,272.1 533.5,276.3 533.8,279.4 531.9,282.0 527.3,285.6 526.5,289.7 524.0,294.0 521.6,291.6 490.4,291.9 489.5,287.1 488.2,282.0 485.9,275.2 485.1,272.2 484.0,266.8Z"/>
<path fill="#2f87d7" d="M490.4,291.9 521.6,291.6 524.0,294.0 527.3,298.8 529.6,303.8 533.5,308.8 533.5,311.8 535.8,317.7 538.9,322.6 541.3,327.4 540.4,331.3 538.9,332.3 537.3,337.1 532.1,337.1 533.8,332.3 499.3,332.3 499.3,327.4 499.4,306.8 497.1,300.3 494.0,297.8Z"/>
<path fill="#6cc2ea" d="M537.3,337.1 532.1,337.1 533.8,332.3 499.3,332.3 500.8,342.8 500.4,359.3 503.8,360.1 503.8,365.2 526.1,365.2 527.3,356.9 530.4,351.3 532.7,346.6 534.2,345.6 535.8,340.9Z"/>
<path fill="#63b9e7" d="M526.1,365.2 503.8,365.2 503.8,374.4 505.6,378.9 507.6,383.4 506.4,389.7 505.3,395.1 509.5,394.2 515.7,396.0 521.1,396.9 527.3,398.6 533.5,400.4 539.6,401.3 542.7,399.5 539.6,393.3 538.1,390.6 536.9,383.4 522.6,383.4 524.2,378.0 526.9,370.7Z"/>
<path fill="#52aae2" d="M532.7,346.6 530.4,351.3 527.3,356.9 526.1,365.2 526.9,370.7 524.2,378.0 522.6,383.4 536.9,383.4 538.1,390.6 542.7,388.8 547.4,388.8 546.8,375.3 549.7,355.9 548.9,346.6Z"/>
<path fill="#a6f1f1" d="M548.9,346.6 549.7,355.9 546.8,375.3 547.4,388.8 550.5,390.2 554.3,389.7 553.6,383.4 573.6,383.4 573.3,378.0 573.6,371.6 572.3,366.4 569.0,346.7Z"/>
<path fill="#8fe4ee" d="M573.6,383.4 573.3,378.0 573.6,371.6 572.3,366.4 569.0,346.7 578.9,346.7 588.3,346.6 586.4,349.4 590.7,351.7 595.3,358.7 600.7,364.3 604.6,373.9 603.0,378.9 601.1,386.1 596.8,386.1 595.3,387.3 574.7,386.1Z"/>
<path fill="#7dcdea" d="M554.3,389.7 553.6,383.4 573.6,383.4 574.7,386.1 595.3,387.3 596.8,386.1 601.1,386.1 602.3,392.4 607.7,405.7 612.3,421.4 611.5,429.2 609.2,434.3 603.8,435.2 599.2,428.3 596.1,423.1 591.4,414.5 590.7,408.3 591.4,401.3 585.2,396.0 581.4,391.5 575.2,395.1 571.3,395.1 569.0,391.5 562.1,388.8Z"/>
<path fill="#8ad9ee" d="M604.6,373.9 600.7,364.3 595.3,358.7 590.7,351.7 586.4,349.4 588.3,346.6 593.7,344.7 604.2,345.1 605.3,345.6 606.1,348.3 614.6,348.4 623.5,357.2 618.5,363.4 612.3,368.9 606.9,372.6Z"/>
<path fill="#7fd0ec" d="M588.3,346.6 578.9,346.7 581.4,343.7 585.2,341.4 592.2,337.5 596.8,336.1 599.3,331.4 644.0,331.8 646.3,338.0 647.1,344.2 643.2,346.6 638.6,349.4 631.6,351.7 628.5,356.9 623.5,357.2 614.6,348.4 606.1,348.3 605.3,345.6 604.2,345.1 593.7,344.7Z"/>
<path fill="#62b7e6" d="M538.9,332.3 537.3,337.1 535.8,340.9 534.2,345.6 532.7,346.6 548.9,346.6 569.0,346.7 578.9,346.7 581.4,343.7 585.2,341.4 592.2,337.5 596.8,336.1 599.3,331.4 583.9,331.3 550.1,330.5 550.1,332.3Z"/>
<path fill="#5db3e6" d="M538.9,332.3 550.1,332.3 550.1,330.5 583.9,331.3 589.1,328.9 594.5,324.5 597.1,322.2 594.5,319.7 592.2,316.0 592.2,313.6 589.1,310.8 583.7,311.4 579.1,308.3 575.0,306.8 574.4,309.8 570.6,310.8 566.7,317.7 562.1,318.7 557.4,319.7 553.6,318.2 550.1,319.7 549.7,322.6 546.6,326.5 541.3,327.4 540.4,331.3Z"/>
<path fill="#78caeb" d="M644.0,331.8 599.3,331.4 583.9,331.3 589.1,328.9 594.5,324.5 597.1,322.2 603.0,325.0 610.0,322.6 612.3,318.7 615.4,312.8 618.5,312.8 621.6,307.8 625.1,303.3 629.9,304.6 631.6,305.8 635.2,309.8 636.3,315.7 640.9,321.6 640.9,327.4Z"/>
<path fill="#8ddcee" d="M597.1,322.2 594.5,319.7 592.2,316.0 592.2,313.6 595.3,311.8 597.6,308.8 600.7,304.8 605.7,301.8 607.7,295.8 608.3,291.3 608.3,300.6 616.3,300.6 616.3,305.8 621.6,301.8 626.2,301.0 629.9,304.6 625.1,303.3 621.6,307.8 618.5,312.8 615.4,312.8 612.3,318.7 610.0,322.6 603.0,325.0Z"/>
<path fill="#2a7fd3" d="M616.3,300.6 616.3,305.8 621.6,301.8 626.2,301.0 629.9,304.6 631.6,305.8 635.2,309.8 636.3,315.7 640.9,316.7 639.4,309.8 640.5,305.8 641.7,313.8 644.0,318.2 649.0,317.4 650.6,313.3 644.8,313.3 644.8,300.6Z"/>
<path fill="#3a92dc" d="M650.6,313.3 644.8,313.3 644.8,300.6 647.9,299.5 646.7,301.8 647.9,305.3 650.6,309.8Z"/>
<path fill="#6cc2ea" d="M608.3,277.5 608.3,291.3 608.3,300.6 616.3,300.6 644.8,300.6 647.9,299.5 650.2,297.8 652.9,295.8 649.4,291.7 650.2,289.2 653.3,283.9 650.2,279.4 648.2,277.3 614.2,277.3 614.2,274.5Z"/>
<path fill="#5db3e6" d="M575.0,306.8 575.2,280.4 585.6,280.1 591.4,283.0 599.2,282.5 604.6,278.9 608.3,277.5 608.3,291.3 607.7,295.8 605.7,301.8 600.7,304.8 597.6,308.8 595.3,311.8 592.2,313.6 589.1,310.8 583.7,311.4 579.1,308.3Z"/>
<path fill="#5db3e6" d="M554.1,279.8 554.1,304.3 553.6,308.8 554.3,310.8 551.2,315.7 550.1,319.7 553.6,318.2 557.4,319.7 562.1,318.7 566.7,317.7 570.6,310.8 574.4,309.8 575.0,306.8 575.2,280.4 559.7,279.8 556.6,281.3Z"/>
<path fill="#3a92dc" d="M554.1,279.8 553.6,277.3 552.0,272.1 530.0,272.1 533.5,276.3 533.8,279.4 531.9,282.0 527.3,285.6 526.5,289.7 524.0,294.0 527.3,298.8 529.6,303.8 533.5,308.8 533.5,311.8 535.8,317.7 538.9,322.6 541.3,327.4 546.6,326.5 549.7,322.6 550.1,319.7 551.2,315.7 554.3,310.8 553.6,308.8 554.1,304.3Z"/>
<path fill="#4ea6e1" d="M552.0,272.1 530.0,272.1 526.5,266.8 525.6,261.5 523.8,256.7 520.3,254.0 517.2,251.3 513.7,248.6 513.4,245.3 514.1,238.7 517.2,233.2 518.4,226.5 523.4,225.9 528.0,223.7 531.9,227.9 534.2,230.5 542.0,233.2 549.7,236.5 552.0,241.0 553.6,244.2 550.5,250.2 553.6,248.6 559.0,242.1 554.3,249.7 553.6,255.1 552.8,261.5 552.0,266.8Z"/>
<path fill="#4aa1e0" d="M559.7,279.8 575.2,280.4 585.6,280.1 587.6,277.3 593.0,271.1 593.7,266.8 592.2,257.3 589.9,255.6 586.0,257.3 582.2,260.5 582.2,257.3 586.0,252.9 586.8,245.3 581.4,239.9 576.0,236.8 573.6,239.9 570.6,243.2 569.0,247.5 564.4,246.4 564.0,252.9 562.1,260.5 564.4,268.9 562.1,275.2Z"/>
<path fill="#4aa1e0" d="M553.6,244.2 552.0,241.0 549.7,236.5 542.0,233.2 534.2,230.5 531.9,227.9 538.9,224.8 543.5,221.9 548.9,218.0 552.8,218.5 548.1,223.7 555.1,228.7 561.3,229.3 566.7,226.5 573.6,225.9 576.7,229.3 580.6,228.7 582.2,233.8 580.6,234.3 576.0,236.0 569.8,233.2 561.3,236.0 555.9,238.7Z"/>
<path fill="#2176d0" d="M653.3,283.9 650.2,279.4 648.2,277.3 614.2,277.3 614.2,274.5 620.8,267.9 619.6,264.2 627.8,262.9 637.0,263.7 641.7,261.0 640.9,255.1 644.8,251.3 651.0,245.9 653.3,245.3 663.8,245.2 663.7,250.8 663.3,260.5 664.5,269.5 662.5,276.8 662.6,281.0 662.3,284.6 661.3,287.6 660.2,289.2 659.3,288.7Z"/>
<path fill="#1c63c6" d="M659.3,288.7 653.3,283.9 650.2,289.2 649.4,291.7 652.9,295.8 650.2,297.8 647.9,299.5 646.7,301.8 651.0,305.8 651.7,308.5 655.6,303.8 658.3,299.3 658.7,293.8 656.7,292.7 658.7,290.7Z"/>
<path fill="#3b93dc" d="M661.3,287.6 662.3,284.6 662.6,281.0 662.5,276.8 675.7,277.1 675.7,284.3 670.3,284.9 666.4,285.6Z"/>
<path fill="#2a7fd3" d="M675.7,284.3 675.7,277.1 678.9,277.1 680.3,280.4 681.1,282.5 678.4,283.5Z"/>
<path fill="#1d5fc3" d="M662.5,276.8 664.5,269.5 670.6,269.7 679.6,270.0 682.4,268.1 685.0,270.5 681.9,274.2 685.0,277.3 685.7,279.4 689.6,279.9 689.2,276.8 690.1,279.4 690.0,280.7 685.7,282.0 681.1,282.5 680.3,280.4 678.9,277.1 675.7,277.1Z"/>
<path fill="#3d95dc" d="M663.8,245.2 663.7,250.8 663.3,260.5 664.5,269.5 670.6,269.7 671.8,259.4 674.1,252.4 677.2,247.5 678.0,245.2Z"/>
<path fill="#4ea6e1" d="M670.6,269.7 671.8,259.4 674.1,252.4 677.2,247.5 678.0,245.2 681.3,242.1 682.0,256.2 682.1,263.7 684.2,266.1 682.4,268.1 679.6,270.0Z"/>
<path fill="#55abe2" d="M681.3,242.1 682.0,256.2 682.1,263.7 684.2,266.1 688.1,260.5 693.5,257.3 698.9,252.9 705.8,251.9 712.8,246.4 709.5,238.7 706.8,235.0 706.6,222.3 702.7,219.1 695.6,217.8 689.6,226.5 687.3,235.4 683.4,241.0Z"/>
<path fill="#2176d0" d="M658.7,291.7 666.4,290.2 674.1,287.1 675.2,286.9 671.0,289.2 664.1,291.5 659.1,292.0Z"/>
<path fill="#1f72cf" d="M227.2,213.3 219.5,209.3 213.3,209.3 207.1,207.9 200.9,205.6 196.3,206.1 192.6,202.4 187.0,201.9 182.4,199.5 178.4,197.6 176.2,201.9 171.6,202.4 167.6,206.6 162.9,207.9 159.2,212.0 156.7,218.2 151.5,220.3 148.4,224.6 153.0,227.5 157.1,230.3 157.7,235.5 161.1,236.3 163.2,240.2 157.4,242.5 154.9,239.5 151.5,241.8 147.5,244.1 143.5,246.3 148.4,249.3 149.3,253.6 153.0,254.7 157.7,254.0 162.3,252.9 165.4,254.4 166.0,258.6 163.9,261.4 161.4,261.1 156.7,263.5 154.3,264.9 153.0,268.2 150.6,272.2 149.6,274.8 152.1,278.7 151.8,281.2 155.2,284.3 160.8,284.6 162.6,288.6 162.9,292.2 167.6,291.6 172.2,292.8 176.2,292.2 177.1,296.3 173.1,300.9 166.9,307.6 160.5,312.0 154.6,315.5 162.3,313.1 170.0,309.3 176.2,304.9 180.8,300.9 185.5,295.7 188.6,291.0 191.7,285.5 194.8,279.9 198.8,276.7 197.8,280.6 195.4,284.3 193.8,287.4 197.5,288.0 200.9,285.5 204.0,283.1 207.1,280.6 210.2,278.7 213.3,281.5 217.3,284.0 222.6,284.0 227.2,284.6 230.9,285.8 234.6,289.5 238.9,294.0 240.8,296.3 241.7,299.8 244.2,303.2 246.4,306.5 247.9,309.8 251.0,313.1 254.1,314.7 258.1,314.4 259.6,313.9 261.2,311.5 261.2,307.6 258.1,305.4 254.4,300.3 250.7,294.0 248.8,291.0 245.7,288.0 244.2,285.5 241.1,287.1 237.7,288.9 233.1,282.1 227.2,282.4Z"/>
<path fill="#1f72cf" d="M132.0,259.7 136.7,260.0 141.6,262.5 138.8,264.5 134.5,262.8Z"/>
<path fill="#4ea6e1" d="M251.9,371.5 257.7,374.2 260.0,377.9 253.8,382.8 250.3,380.3 251.1,375.0Z"/>
<path fill="#4ea6e1" d="M245.3,365.5 250.7,367.2 249.9,369.2 246.9,368.8 245.3,367.2Z"/>
<path fill="#4ea6e1" d="M240.7,363.4 245.3,363.9 244.9,365.1 240.7,365.1Z"/>
<path fill="#4ea6e1" d="M232.9,360.4 238.0,362.2 237.6,363.4 234.1,363.4Z"/>
<path fill="#4ea6e1" d="M221.3,355.5 225.2,355.1 225.2,358.0 222.1,358.0Z"/>
<path fill="#e5f5fe" d="M281.8,206.4 284.9,210.5 285.7,216.2 284.2,221.4 280.3,222.5 282.2,217.4 283.0,212.8Z"/>
<path fill="#e5f5fe" d="M642.8,302.3 639.7,305.8 640.5,309.3 639.4,314.3 640.9,318.7 640.9,324.5 643.2,327.6 643.6,322.6 644.0,318.2 642.1,314.3 642.1,309.3 643.6,304.3Z"/>
</g></svg>
<svg class="abs" style="left:449.5px;top:201.3px" width="10" height="6"><path d="M0,0 L5,4.2 L10,0 Z" fill="#fff"/></svg><div class="pill" style="left:396.5px;top:187.7px;width:116.9px;"></div><svg class="abs" style="left:406.0px;top:192.0px" width="7.5" height="7.5" viewBox="0 0 7.5 7.5"><path d="M0.9,6.6 L6.2,1.3 M1.8,0.9 L6.6,0.9 L6.6,5.7" fill="none" stroke="#2b7fd0" stroke-width="1.7"/></svg>
<div class="t" style="left:418.0px;top:188.3px;font-size:13px;color:#2b7fd0;font-weight:700;letter-spacing:-0.6px;">1.</div>
<div class="t" style="left:430.3px;top:188.3px;font-size:13px;color:#2c2f3a;font-weight:400;">North Dakota</div>
<svg class="abs" style="left:287.5px;top:249.7px" width="10" height="6"><path d="M0,0 L5,4.2 L10,0 Z" fill="#fff"/></svg><div class="pill" style="left:245.5px;top:236.1px;width:96.2px;"></div><svg class="abs" style="left:257.3px;top:240.4px" width="7.5" height="7.5" viewBox="0 0 7.5 7.5"><path d="M0.9,6.6 L6.2,1.3 M1.8,0.9 L6.6,0.9 L6.6,5.7" fill="none" stroke="#2b7fd0" stroke-width="1.7"/></svg>
<div class="t" style="left:268.7px;top:236.7px;font-size:13px;color:#2b7fd0;font-weight:700;">4.</div>
<div class="t" style="left:283.4px;top:236.7px;font-size:13px;color:#2c2f3a;font-weight:400;">Oregon</div>
<svg class="abs" style="left:310.5px;top:345.6px" width="10" height="6"><path d="M0,0 L5,4.2 L10,0 Z" fill="#fff"/></svg><div class="pill" style="left:263px;top:332px;width:105.7px;"></div><svg class="abs" style="left:272.7px;top:336.3px" width="7.5" height="7.5" viewBox="0 0 7.5 7.5"><path d="M0.9,6.6 L6.2,1.3 M1.8,0.9 L6.6,0.9 L6.6,5.7" fill="none" stroke="#2b7fd0" stroke-width="1.7"/></svg>
<div class="t" style="left:284.8px;top:332.6px;font-size:13px;color:#2b7fd0;font-weight:700;">2.</div>
<div class="t" style="left:299.4px;top:332.6px;font-size:13px;color:#2c2f3a;font-weight:400;">California</div>
<svg class="abs" style="left:679.4px;top:267.5px" width="10" height="6"><path d="M0,0 L5,4.2 L10,0 Z" fill="#fff"/></svg><div class="pill" style="left:612.9px;top:253.9px;width:134.6px;"></div><svg class="abs" style="left:624.8px;top:258.2px" width="7.5" height="7.5" viewBox="0 0 7.5 7.5"><path d="M0.9,6.6 L6.2,1.3 M1.8,0.9 L6.6,0.9 L6.6,5.7" fill="none" stroke="#2b7fd0" stroke-width="1.7"/></svg>
<div class="t" style="left:636.8px;top:254.5px;font-size:13px;color:#2b7fd0;font-weight:700;">3.</div>
<div class="t" style="left:651.0px;top:254.5px;font-size:13px;color:#2c2f3a;font-weight:400;">Massachusetts</div>
<svg class="abs" style="left:653.5px;top:294.5px" width="6" height="10"><path d="M6,0 L1.8,5 L6,10 Z" fill="#fff"/></svg><div class="pill" style="left:658.2px;top:292.2px;width:106.2px;"></div><svg class="abs" style="left:664.5px;top:296.5px" width="7.5" height="7.5" viewBox="0 0 7.5 7.5"><path d="M0.9,6.6 L6.2,1.3 M1.8,0.9 L6.6,0.9 L6.6,5.7" fill="none" stroke="#2b7fd0" stroke-width="1.7"/></svg>
<div class="t" style="left:674.5px;top:292.8px;font-size:13px;color:#2b7fd0;font-weight:700;">5.</div>
<div class="t" style="left:689.4px;top:292.8px;font-size:13px;color:#2c2f3a;font-weight:400;">New Jersey</div>
<svg class="abs" style="left:468px;top:334.6px" width="10" height="6"><path d="M0,0 L5,4.2 L10,0 Z" fill="#fff"/></svg><div class="pill" style="left:423px;top:321px;width:100.0px;"></div><svg class="abs" style="left:436.0px;top:325.3px" width="7.5" height="7.5" viewBox="0 0 7.5 7.5"><path d="M0.9,0.9 L6.2,6.2 M6.6,1.8 L6.6,6.6 L1.8,6.6" fill="none" stroke="#62d6c8" stroke-width="1.7"/></svg>
<div class="t" style="left:444.0px;top:321.6px;font-size:13px;color:#62d6c8;font-weight:700;letter-spacing:-0.6px;">1.</div>
<div class="t" style="left:457.0px;top:321.6px;font-size:13px;color:#2c2f3a;font-weight:400;">Oklahoma</div>
<svg class="abs" style="left:595px;top:327.6px" width="10" height="6"><path d="M0,0 L5,4.2 L10,0 Z" fill="#fff"/></svg><div class="pill" style="left:547.3px;top:314px;width:114.5px;"></div><svg class="abs" style="left:554.5px;top:318.3px" width="7.5" height="7.5" viewBox="0 0 7.5 7.5"><path d="M0.9,0.9 L6.2,6.2 M6.6,1.8 L6.6,6.6 L1.8,6.6" fill="none" stroke="#62d6c8" stroke-width="1.7"/></svg>
<div class="t" style="left:564.0px;top:314.6px;font-size:13px;color:#62d6c8;font-weight:700;">4.</div>
<div class="t" style="left:579.5px;top:314.6px;font-size:13px;color:#2c2f3a;font-weight:400;">West Virginia</div>
<svg class="abs" style="left:581px;top:367.3px" width="10" height="6"><path d="M0,0 L5,4.2 L10,0 Z" fill="#fff"/></svg><div class="pill" style="left:538.6px;top:353.7px;width:95.5px;"></div><svg class="abs" style="left:550.4px;top:358.0px" width="7.5" height="7.5" viewBox="0 0 7.5 7.5"><path d="M0.9,0.9 L6.2,6.2 M6.6,1.8 L6.6,6.6 L1.8,6.6" fill="none" stroke="#62d6c8" stroke-width="1.7"/></svg>
<div class="t" style="left:560.0px;top:354.3px;font-size:13px;color:#62d6c8;font-weight:700;">3.</div>
<div class="t" style="left:575.0px;top:354.3px;font-size:13px;color:#2c2f3a;font-weight:400;">Georgia</div>
<svg class="abs" style="left:552.3px;top:375.6px" width="10" height="6"><path d="M0,6 L5,1.8 L10,6 Z" fill="#fff"/></svg><div class="pill" style="left:507px;top:380.6px;width:100.7px;"></div><svg class="abs" style="left:516.5px;top:384.9px" width="7.5" height="7.5" viewBox="0 0 7.5 7.5"><path d="M0.9,0.9 L6.2,6.2 M6.6,1.8 L6.6,6.6 L1.8,6.6" fill="none" stroke="#62d6c8" stroke-width="1.7"/></svg>
<div class="t" style="left:527.8px;top:381.2px;font-size:13px;color:#62d6c8;font-weight:700;">2.</div>
<div class="t" style="left:542.6px;top:381.2px;font-size:13px;color:#2c2f3a;font-weight:400;">Alabama</div>
<svg class="abs" style="left:599px;top:414.4px" width="10" height="6"><path d="M0,6 L5,1.8 L10,6 Z" fill="#fff"/></svg><div class="pill" style="left:561.9px;top:419.4px;width:84.9px;"></div><svg class="abs" style="left:571.0px;top:423.7px" width="7.5" height="7.5" viewBox="0 0 7.5 7.5"><path d="M0.9,0.9 L6.2,6.2 M6.6,1.8 L6.6,6.6 L1.8,6.6" fill="none" stroke="#62d6c8" stroke-width="1.7"/></svg>
<div class="t" style="left:581.7px;top:420.0px;font-size:13px;color:#62d6c8;font-weight:700;">5.</div>
<div class="t" style="left:596.0px;top:420.0px;font-size:13px;color:#2c2f3a;font-weight:400;">Florida</div>
<div class="abs" style="left:41.5px;top:289px;width:181px;height:199.5px;border-radius:11px;background:rgba(35,95,155,0.055);"></div>
<div class="abs" style="left:35px;top:284px;width:177.5px;height:198.5px;border-radius:10px;background:#fff;border:1px solid #e2eef8;"></div>
<div class="abs" style="left:19.7px;top:294.5px;width:51px;height:51px;border-radius:50%;background:#e6f3fc;"></div>
<svg class="abs" style="left:14px;top:298px" width="62" height="44" viewBox="0 0 62 44">
<path d="M2.5,6 Q16,3.5 30,5 L30,41 L2.5,41 Z" fill="#b4b6a6"/>
<path d="M32,5 Q46,3.5 59.5,6 L59.5,41 L32,41 Z" fill="#b4b6a6"/>
<rect x="2.5" y="37.2" width="57" height="1.2" fill="#8f9283"/>
<path d="M2,3 Q16,0.5 30,2 L30,35.5 L2,35.5 Z" fill="#e4e2cd" stroke="#7e8172" stroke-width="1.8"/>
<path d="M32,2 Q46,0.5 60,3 L60,35.5 L32,35.5 Z" fill="#e4e2cd" stroke="#7e8172" stroke-width="1.8"/>
<rect x="4.8" y="6.2" width="22.5" height="26.5" rx="1" fill="none" stroke="#a3a594" stroke-width="1"/>
<rect x="34.7" y="6.2" width="22.5" height="26.5" rx="1" fill="none" stroke="#a3a594" stroke-width="1"/>
<g fill="#6f7264"><rect x="4" y="5" width="3" height="4"/><rect x="4" y="29.5" width="3" height="4"/><rect x="55" y="5" width="3" height="4"/><rect x="55" y="29.5" width="3" height="4"/></g>
<circle cx="14" cy="19" r="3.3" fill="#d0cfbb" stroke="#6f7263" stroke-width="1.1"/>
<circle cx="47" cy="19" r="2.8" fill="#3f9c6c"/>
<g stroke="#8fb89a" stroke-width="0.8"><line x1="8" y1="25" x2="18" y2="25"/><line x1="8" y1="27" x2="16" y2="27"/></g>
<rect x="21.8" y="1.6" width="18.3" height="39.8" fill="#fdf6d6"/>
<rect x="21.8" y="1.6" width="3.3" height="39.8" fill="#f1bf0f"/>
<rect x="36.8" y="1.6" width="3.3" height="39.8" fill="#f1bf0f"/>
<text x="31" y="31" text-anchor="middle" font-family="Liberation Sans, Arial, sans-serif" font-weight="700" font-size="27" fill="#7f6416">$</text>
</svg>
<div class="t" style="right:601.2px;text-align:right;top:303.1px;font-size:16px;color:#141827;font-weight:700;">Average</div>
<div class="t" style="right:601.2px;text-align:right;top:320.3px;font-size:16px;color:#141827;font-weight:700;">hourly earnings</div>
<div class="abs" style="left:128.8px;top:354.7px;width:77.2px;height:26px;border-radius:5px;background:#2a9883;"></div>
<div class="t" style="left:-132.6px;width:600px;text-align:center;top:358.4px;font-size:19.6px;color:#fff;font-weight:700;">$42.00*</div>
<div class="t" style="right:691.2px;text-align:right;top:360.7px;font-size:15.2px;color:#1b1e2b;font-weight:400;">UPS</div>
<div class="abs" style="left:128.8px;top:385.3px;width:77.2px;height:26px;border-radius:5px;background:#22b399;"></div>
<div class="t" style="left:-132.6px;width:600px;text-align:center;top:389.1px;font-size:19.6px;color:#fff;font-weight:700;">$21.58</div>
<div class="t" style="right:691.2px;text-align:right;top:390.9px;font-size:15.2px;color:#1b1e2b;font-weight:400;">FedEx</div>
<div class="abs" style="left:128.8px;top:416.0px;width:77.2px;height:26px;border-radius:5px;background:#66d4c3;"></div>
<div class="t" style="left:-132.6px;width:600px;text-align:center;top:419.7px;font-size:19.6px;color:#fff;font-weight:700;">$20.08</div>
<div class="t" style="right:691.2px;text-align:right;top:421.1px;font-size:15.2px;color:#1b1e2b;font-weight:400;">Amazon</div>
<div class="abs" style="left:128.8px;top:446.6px;width:77.2px;height:26px;border-radius:5px;background:#66d4c3;"></div>
<div class="t" style="left:-132.6px;width:600px;text-align:center;top:450.4px;font-size:19.6px;color:#fff;font-weight:700;">$19.28</div>
<div class="t" style="right:691.2px;text-align:right;top:451.3px;font-size:15.2px;color:#1b1e2b;font-weight:400;">USPS</div>
<div class="t" style="left:35.0px;top:500.9px;font-size:15.45px;color:#464b58;font-weight:400;">*Potential earnings after 4 years with the company per UPS</div>
<svg class="abs" style="left:171px;top:557px" width="11" height="11" viewBox="0 0 11 11"><path d="M1.5,9.5 L9,2 M3.2,1.6 L9.6,1.6 L9.6,8" fill="none" stroke="#2a86d6" stroke-width="2.6"/></svg>
<div class="t" style="left:189.2px;top:551.4px;font-size:20px;color:#151a2c;font-weight:400;-webkit-text-stroke:0.55px #151a2c;letter-spacing:1.1px;">Top 10</div>
<svg class="abs" style="left:541.5px;top:557px" width="11" height="11" viewBox="0 0 11 11"><path d="M1.5,1.5 L9,9 M9.6,3 L9.6,9.6 L3.2,9.6" fill="none" stroke="#5fd6c8" stroke-width="2.6"/></svg>
<div class="t" style="left:558.2px;top:551.0px;font-size:20.4px;color:#151a2c;font-weight:400;-webkit-text-stroke:0.55px #151a2c;letter-spacing:1.2px;">Bottom 10</div>
<div class="abs" style="left:408.4px;top:568px;width:1.6px;height:377px;background:#e9f5fc;"></div>
<div class="top">
<div class="bar" style="left:160.7px;top:589.2px;width:152.6px;"></div>
<div class="t" style="right:650.4px;text-align:right;top:589.8px;font-size:17.5px;color:#252834;font-weight:400;">North Dakota</div>
<div class="t" style="left:320.3px;top:588.2px;font-size:19.6px;color:#111421;font-weight:400;-webkit-text-stroke:0.45px #111421;letter-spacing:0.4px;">$46,225</div>
<div class="bar" style="left:160.7px;top:625.5px;width:141.4px;"></div>
<div class="t" style="right:650.4px;text-align:right;top:626.1px;font-size:17.5px;color:#252834;font-weight:400;">California</div>
<div class="t" style="left:309.1px;top:624.5px;font-size:19.6px;color:#111421;font-weight:400;-webkit-text-stroke:0.45px #111421;letter-spacing:0.4px;">$42,835</div>
<div class="bar" style="left:160.7px;top:661.8px;width:139.0px;"></div>
<div class="t" style="right:650.4px;text-align:right;top:662.3px;font-size:17.5px;color:#252834;font-weight:400;">Massachusetts</div>
<div class="t" style="left:306.7px;top:660.8px;font-size:19.6px;color:#111421;font-weight:400;-webkit-text-stroke:0.45px #111421;letter-spacing:0.4px;">$42,100</div>
<div class="bar" style="left:160.7px;top:698.1px;width:137.4px;"></div>
<div class="t" style="right:650.4px;text-align:right;top:698.6px;font-size:17.5px;color:#252834;font-weight:400;">Oregon</div>
<div class="t" style="left:305.1px;top:697.0px;font-size:19.6px;color:#111421;font-weight:400;-webkit-text-stroke:0.45px #111421;letter-spacing:0.4px;">$41,625</div>
<div class="bar" style="left:160.7px;top:734.4px;width:135.8px;"></div>
<div class="t" style="right:650.4px;text-align:right;top:734.9px;font-size:17.5px;color:#252834;font-weight:400;">New Jersey</div>
<div class="t" style="left:303.5px;top:733.3px;font-size:19.6px;color:#111421;font-weight:400;-webkit-text-stroke:0.45px #111421;letter-spacing:0.4px;">$41,125</div>
<div class="bar" style="left:160.7px;top:770.6px;width:135.4px;"></div>
<div class="t" style="right:650.4px;text-align:right;top:771.2px;font-size:17.5px;color:#252834;font-weight:400;">Washington</div>
<div class="t" style="left:303.1px;top:769.6px;font-size:19.6px;color:#111421;font-weight:400;-webkit-text-stroke:0.45px #111421;letter-spacing:0.4px;">$41,005</div>
<div class="bar" style="left:160.7px;top:806.9px;width:133.6px;"></div>
<div class="t" style="right:650.4px;text-align:right;top:807.5px;font-size:17.5px;color:#252834;font-weight:400;">Alaska</div>
<div class="t" style="left:301.3px;top:805.9px;font-size:19.6px;color:#111421;font-weight:400;-webkit-text-stroke:0.45px #111421;letter-spacing:0.4px;">$40,455</div>
<div class="bar" style="left:160.7px;top:843.2px;width:132.9px;"></div>
<div class="t" style="right:650.4px;text-align:right;top:843.7px;font-size:17.5px;color:#252834;font-weight:400;">Rhode Island</div>
<div class="t" style="left:300.6px;top:842.2px;font-size:19.6px;color:#111421;font-weight:400;-webkit-text-stroke:0.45px #111421;letter-spacing:0.4px;">$40,260</div>
<div class="bar" style="left:160.7px;top:879.5px;width:132.7px;"></div>
<div class="t" style="right:650.4px;text-align:right;top:880.0px;font-size:17.5px;color:#252834;font-weight:400;">New York</div>
<div class="t" style="left:300.4px;top:878.4px;font-size:19.6px;color:#111421;font-weight:400;-webkit-text-stroke:0.45px #111421;letter-spacing:0.4px;">$40,175</div>
<div class="bar" style="left:160.7px;top:915.8px;width:131.9px;"></div>
<div class="t" style="right:650.4px;text-align:right;top:916.3px;font-size:17.5px;color:#252834;font-weight:400;">Colorado</div>
<div class="t" style="left:299.6px;top:914.7px;font-size:19.6px;color:#111421;font-weight:400;-webkit-text-stroke:0.45px #111421;letter-spacing:0.4px;">$39,940</div>
</div><div class="bot">
<div class="bar" style="left:557px;top:589.2px;width:93.9px;"></div>
<div class="t" style="right:253.4px;text-align:right;top:589.8px;font-size:17.5px;color:#252834;font-weight:400;">Oklahoma</div>
<div class="t" style="left:657.9px;top:588.2px;font-size:19.6px;color:#111421;font-weight:400;-webkit-text-stroke:0.45px #111421;letter-spacing:0.4px;">$31,855</div>
<div class="bar" style="left:557px;top:625.5px;width:94.9px;"></div>
<div class="t" style="right:253.4px;text-align:right;top:626.1px;font-size:17.5px;color:#252834;font-weight:400;">Alabama</div>
<div class="t" style="left:658.9px;top:624.5px;font-size:19.6px;color:#111421;font-weight:400;-webkit-text-stroke:0.45px #111421;letter-spacing:0.4px;">$32,200</div>
<div class="bar" style="left:557px;top:661.8px;width:97.3px;"></div>
<div class="t" style="right:253.4px;text-align:right;top:662.3px;font-size:17.5px;color:#252834;font-weight:400;">Georgia</div>
<div class="t" style="left:661.3px;top:660.8px;font-size:19.6px;color:#111421;font-weight:400;-webkit-text-stroke:0.45px #111421;letter-spacing:0.4px;">$32,995</div>
<div class="bar" style="left:557px;top:698.1px;width:99.0px;"></div>
<div class="t" style="right:253.4px;text-align:right;top:698.6px;font-size:17.5px;color:#252834;font-weight:400;">West Virginia</div>
<div class="t" style="left:663.0px;top:697.0px;font-size:19.6px;color:#111421;font-weight:400;-webkit-text-stroke:0.45px #111421;letter-spacing:0.4px;">$33,590</div>
<div class="bar" style="left:557px;top:734.4px;width:99.5px;"></div>
<div class="t" style="right:253.4px;text-align:right;top:734.9px;font-size:17.5px;color:#252834;font-weight:400;">Florida</div>
<div class="t" style="left:663.5px;top:733.3px;font-size:19.6px;color:#111421;font-weight:400;-webkit-text-stroke:0.45px #111421;letter-spacing:0.4px;">$33,735</div>
<div class="bar" style="left:557px;top:770.6px;width:99.6px;"></div>
<div class="t" style="right:253.4px;text-align:right;top:771.2px;font-size:17.5px;color:#252834;font-weight:400;">Nevada</div>
<div class="t" style="left:663.6px;top:769.6px;font-size:19.6px;color:#111421;font-weight:400;-webkit-text-stroke:0.45px #111421;letter-spacing:0.4px;">$33,800</div>
<div class="bar" style="left:557px;top:806.9px;width:100.2px;"></div>
<div class="t" style="right:253.4px;text-align:right;top:807.5px;font-size:17.5px;color:#252834;font-weight:400;">North Carolina</div>
<div class="t" style="left:664.2px;top:805.9px;font-size:19.6px;color:#111421;font-weight:400;-webkit-text-stroke:0.45px #111421;letter-spacing:0.4px;">$33,980</div>
<div class="bar" style="left:557px;top:843.2px;width:101.3px;"></div>
<div class="t" style="right:253.4px;text-align:right;top:843.7px;font-size:17.5px;color:#252834;font-weight:400;">New Mexico</div>
<div class="t" style="left:665.3px;top:842.2px;font-size:19.6px;color:#111421;font-weight:400;-webkit-text-stroke:0.45px #111421;letter-spacing:0.4px;">$34,370</div>
<div class="bar" style="left:557px;top:879.5px;width:101.4px;"></div>
<div class="t" style="right:253.4px;text-align:right;top:880.0px;font-size:17.5px;color:#252834;font-weight:400;">Louisiana</div>
<div class="t" style="left:665.4px;top:878.4px;font-size:19.6px;color:#111421;font-weight:400;-webkit-text-stroke:0.45px #111421;letter-spacing:0.4px;">$34,410</div>
<div class="bar" style="left:557px;top:915.8px;width:102.1px;"></div>
<div class="t" style="right:253.4px;text-align:right;top:916.3px;font-size:17.5px;color:#252834;font-weight:400;">Arkansas</div>
<div class="t" style="left:666.1px;top:914.7px;font-size:19.6px;color:#111421;font-weight:400;-webkit-text-stroke:0.45px #111421;letter-spacing:0.4px;">$34,620</div>
</div>
<div class="t" style="left:102.8px;width:600px;text-align:center;top:1004.3px;font-size:20.85px;color:#151a2c;font-weight:400;-webkit-text-stroke:0.65px #151a2c;letter-spacing:0.72px;">Delivery driver employment per 1,000 jobs</div>
<div class="t" style="left:105.9px;width:600px;text-align:center;top:1033.5px;font-size:15.9px;color:#3b404c;font-weight:400;">By state</div>
<div class="abs" style="left:408.2px;top:1080px;width:1.8px;height:164px;background:#e9f5fc;"></div>
<div class="t" style="right:577.3px;text-align:right;top:1081.3px;font-size:17.4px;color:#1c1f2b;font-weight:400;">Tennessee</div>
<div class="t" style="left:238.8px;top:1080.3px;font-size:21px;color:#2b87d1;font-weight:700;">14,655</div>
<div class="t" style="right:201.8px;text-align:right;top:1081.3px;font-size:17.4px;color:#1c1f2b;font-weight:400;">Alaska</div>
<div class="t" style="left:618.3px;top:1080.3px;font-size:21px;color:#74ddcc;font-weight:700;">7,861</div>
<div class="t" style="right:577.3px;text-align:right;top:1117.4px;font-size:17.4px;color:#1c1f2b;font-weight:400;">Illinois</div>
<div class="t" style="left:238.8px;top:1116.4px;font-size:21px;color:#2b87d1;font-weight:700;">13,754</div>
<div class="t" style="right:201.8px;text-align:right;top:1117.4px;font-size:17.4px;color:#1c1f2b;font-weight:400;">New York</div>
<div class="t" style="left:618.3px;top:1116.4px;font-size:21px;color:#74ddcc;font-weight:700;">8,250</div>
<div class="t" style="right:577.3px;text-align:right;top:1153.5px;font-size:17.4px;color:#1c1f2b;font-weight:400;">North Dakota</div>
<div class="t" style="left:238.8px;top:1152.5px;font-size:21px;color:#2b87d1;font-weight:700;">13,480</div>
<div class="t" style="right:201.8px;text-align:right;top:1153.5px;font-size:17.4px;color:#1c1f2b;font-weight:400;">Virginia</div>
<div class="t" style="left:618.3px;top:1152.5px;font-size:21px;color:#74ddcc;font-weight:700;">8,737</div>
<div class="t" style="right:577.3px;text-align:right;top:1189.6px;font-size:17.4px;color:#1c1f2b;font-weight:400;">Kentucky</div>
<div class="t" style="left:238.8px;top:1188.6px;font-size:21px;color:#2b87d1;font-weight:700;">13,017</div>
<div class="t" style="right:201.8px;text-align:right;top:1189.6px;font-size:17.4px;color:#1c1f2b;font-weight:400;">Massachusetts</div>
<div class="t" style="left:618.3px;top:1188.6px;font-size:21px;color:#74ddcc;font-weight:700;">8,941</div>
<div class="t" style="right:577.3px;text-align:right;top:1225.7px;font-size:17.4px;color:#1c1f2b;font-weight:400;">Ohio</div>
<div class="t" style="left:238.8px;top:1224.7px;font-size:21px;color:#2b87d1;font-weight:700;">12,869</div>
<div class="t" style="right:201.8px;text-align:right;top:1225.7px;font-size:17.4px;color:#1c1f2b;font-weight:400;">South Carolina</div>
<div class="t" style="left:618.3px;top:1224.7px;font-size:21px;color:#74ddcc;font-weight:700;">9,054</div>
<div class="abs" style="left:0;top:1283.5px;width:806px;height:61px;background:#e5e8fc;"></div>
<div class="t" style="left:31.0px;top:1307.1px;font-size:13.64px;color:#252836;font-weight:400;"><b style="color:#1d47a6">Source:</b> BLS Data; Indeed.com Data, UPS</div>
<svg class="abs" style="left:670px;top:1300px" width="21" height="23" viewBox="0 0 21 23"><path d="M10.5,0.6 C5,0.6 0.9,4.6 0.9,9.8 C0.9,15.2 6.2,19 10.5,22.4 C14.8,19 20.1,15.2 20.1,9.8 C20.1,4.6 16,0.6 10.5,0.6 Z M10.5,6.2 C12.6,6.2 14.2,7.8 14.2,9.9 C14.2,11.9 12.6,13.4 10.5,13.4 C8.4,13.4 6.8,11.9 6.8,9.9 C6.8,7.8 8.4,6.2 10.5,6.2 Z" fill="#3f80e3" fill-rule="evenodd"/></svg>
<div class="t" style="left:695.3px;top:1300.3px;font-size:24.9px;color:#0d1f66;font-weight:700;">Circuit</div>
</body></html>
